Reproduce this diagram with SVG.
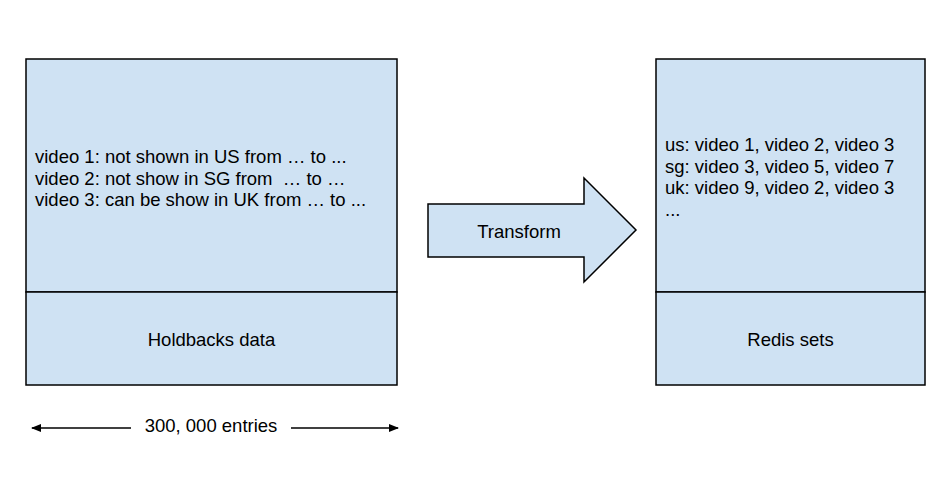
<svg xmlns="http://www.w3.org/2000/svg" width="946" height="477" viewBox="0 0 946 477">
<style>
.box{fill:#cfe2f3;stroke:#000;stroke-width:1.5}
.t{font-family:"Liberation Sans",Arial,sans-serif;font-size:18.5px;fill:#000;white-space:pre}
.c{text-anchor:middle}
.ln{stroke:#000;stroke-width:1.3;fill:none}
</style>
<defs>
<marker id="ah" viewBox="0 0 10 10" refX="9" refY="5" markerWidth="10" markerHeight="10" markerUnits="userSpaceOnUse" orient="auto-start-reverse">
<path d="M0,1 L10,5 L0,9 Z" fill="#000"/>
</marker>
</defs>
<rect width="946" height="477" fill="#fff"/>
<g id="holdbacks">
<rect class="box" x="26" y="59" width="371" height="233"/>
<rect class="box" x="26" y="292" width="371" height="93"/>
<text class="t" x="35" y="163">video 1: not shown in US from … to ...</text>
<text class="t" x="35" y="184.5" xml:space="preserve">video 2: not show in SG from  … to …</text>
<text class="t" x="35" y="206">video 3: can be show in UK from … to ...</text>
<text class="t c" x="211.5" y="346">Holdbacks data</text>
</g>
<g id="transform">
<path class="box" d="M428,204 L584,204 L584,178 L636,230 L584,282 L584,257 L428,257 Z"/>
<text class="t c" x="519" y="238">Transform</text>
</g>
<g id="redis">
<rect class="box" x="656" y="59" width="269" height="233"/>
<rect class="box" x="656" y="292" width="269" height="93"/>
<text class="t" x="665" y="151">us: video 1, video 2, video 3</text>
<text class="t" x="665" y="172.5">sg: video 3, video 5, video 7</text>
<text class="t" x="665" y="194">uk: video 9, video 2, video 3</text>
<text class="t" x="665" y="215.5">...</text>
<text class="t c" x="790.5" y="346">Redis sets</text>
</g>
<g id="connectors">
<line class="ln" x1="131" y1="428" x2="32" y2="428" marker-end="url(#ah)"/>
<line class="ln" x1="291" y1="428" x2="398" y2="428" marker-end="url(#ah)"/>
<text class="t c" x="211" y="432">300, 000 entries</text>
</g>
</svg>
